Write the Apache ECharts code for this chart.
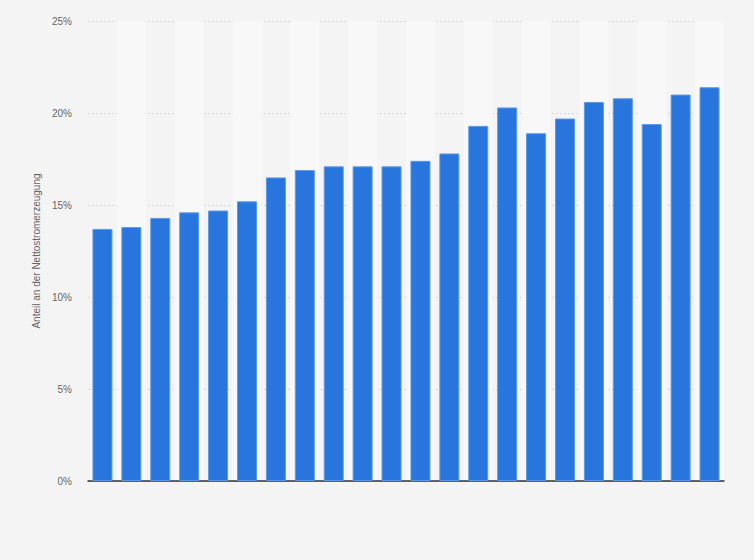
<!DOCTYPE html>
<html>
<head>
<meta charset="utf-8">
<script src="https://cdn.jsdelivr.net/npm/echarts@6/dist/echarts.min.js"></script>
<style>
  html, body { margin: 0; padding: 0; background: #f4f4f4; }
  #chart { width: 754px; height: 560px; }
</style>
</head>
<body>
<div id="chart"></div>
<script>
// Anteil an der Nettostromerzeugung — Säulendiagramm
var years = ['2002', '2003', '2004', '2005', '2006', '2007', '2008', '2009', '2010', '2011', '2012',
  '2013', '2014', '2015', '2016', '2017', '2018', '2019', '2020', '2021', '2022', '2023'];
var shares = [13.7, 13.8, 14.3, 14.6, 14.7, 15.2, 16.5, 16.9, 17.1, 17.1, 17.1,
  17.4, 17.8, 19.3, 20.3, 18.9, 19.7, 20.6, 20.8, 19.4, 21.0, 21.4];
var yTicks = [0, 5, 10, 15, 20, 25];

var chart = echarts.init(document.getElementById('chart'), null, { renderer: 'svg' });
chart.setOption({
  animation: false,
  backgroundColor: '#f4f4f4',
  grid: { left: 88, right: 30, top: 21, bottom: 79 },
  xAxis: {
    type: 'category',
    data: years,
    axisLine: { show: true, lineStyle: { color: '#333', width: 1.5 } },
    axisTick: { show: false, interval: 0 },
    axisLabel: { show: false, interval: 0 },
    splitArea: { show: true, interval: 0, areaStyle: { color: ['rgba(0,0,0,0)', '#f8f8f8'] } }
  },
  yAxis: {
    type: 'value',
    min: yTicks[0],
    max: yTicks[yTicks.length - 1],
    interval: 5,
    name: 'Anteil an der Nettostromerzeugung',
    nameLocation: 'middle',
    nameGap: 45,
    nameTextStyle: { color: '#666', fontSize: 10, fontFamily: 'Liberation Sans, Arial, sans-serif' },
    axisLine: { show: false },
    axisTick: { show: false },
    axisLabel: {
      color: '#666', fontSize: 10, margin: 16,
      fontFamily: 'Liberation Sans, Arial, sans-serif',
      formatter: function (v) { return v + '%'; }
    },
    splitLine: { lineStyle: { color: '#d6d6d6', type: [2, 2], width: 1 } }
  },
  series: [{
    type: 'bar',
    data: shares,
    barWidth: 20,
    itemStyle: { color: '#2876dd', borderColor: '#5a9ae6', borderWidth: 1 }
  }]
});
</script>
</body>
</html>
